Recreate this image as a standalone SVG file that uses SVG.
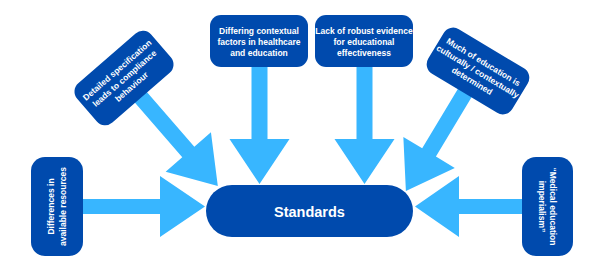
<svg xmlns="http://www.w3.org/2000/svg" width="605" height="272" viewBox="0 0 605 272">
<style>
.box{fill:#004AAD;}
.arr{fill:#38B6FF;}
.t{font-family:"Liberation Sans",Arial,sans-serif;font-weight:bold;font-size:8.5px;fill:#ffffff;text-anchor:middle;}
.big{font-family:"Liberation Sans",Arial,sans-serif;font-weight:bold;font-size:14.5px;fill:#ffffff;text-anchor:middle;}
</style>
<rect width="605" height="272" fill="#ffffff"/>
<g id="connectors">
  <polygon class="arr" points="251.5,60 267.5,60 267.5,139 289.5,139 259.5,184 229.5,139 251.5,139"/>
  <polygon class="arr" points="356.5,60 372.5,60 372.5,139 394.5,139 364.5,184 334.5,139 356.5,139"/>
  <polygon class="arr" points="75,199 160,199 160,176 205,206.5 160,237 160,214 75,214"/>
  <polygon class="arr" points="530,199 459,199 459,176 415,206.5 459,237 459,214 530,214"/>
  <polygon class="arr" transform="translate(124,78) rotate(-41)" points="-8,20 8,20 8,98 30,98 0,143 -30,98 -8,98"/>
  <polygon class="arr" transform="translate(478,71) rotate(31)" points="-8,20 8,20 8,95 30,95 0,140 -30,95 -8,95"/>
</g>
<g id="standards">
  <rect class="box" x="206" y="185" width="207" height="52" rx="26"/>
  <text class="big" x="309.5" y="216.5">Standards</text>
</g>
<g id="differing">
  <rect class="box" x="210" y="15" width="98" height="52" rx="11"/>
  <text class="t" x="259" y="33.5">Differing contextual</text>
  <text class="t" x="259" y="44.5">factors in healthcare</text>
  <text class="t" x="259" y="55.5">and education</text>
</g>
<g id="lack">
  <rect class="box" x="315" y="15" width="98" height="52" rx="11"/>
  <text class="t" x="364" y="33.5">Lack of robust evidence</text>
  <text class="t" x="364" y="44.5">for educational</text>
  <text class="t" x="364" y="55.5">effectiveness</text>
</g>
<g id="detailed" transform="translate(124,78) rotate(-41)">
  <rect class="box" x="-49" y="-26" width="98" height="52" rx="11"/>
  <text class="t" x="0" y="-7.5">Detailed specification</text>
  <text class="t" x="0" y="3.5">leads to compliance</text>
  <text class="t" x="0" y="14.5">behaviour</text>
</g>
<g id="much" transform="translate(478,71) rotate(31)">
  <rect class="box" x="-49" y="-26" width="98" height="52" rx="11"/>
  <text class="t" x="0" y="-7.5">Much of education is</text>
  <text class="t" x="0" y="3.5">culturally / contextually</text>
  <text class="t" x="0" y="14.5">determined</text>
</g>
<g id="differences" transform="translate(57,206.5) rotate(-90)">
  <rect class="box" x="-49.5" y="-26" width="99" height="52" rx="14"/>
  <text class="t" x="0" y="-3">Differences in</text>
  <text class="t" x="0" y="9">available resources</text>
</g>
<g id="imperialism" transform="translate(547.5,206.5) rotate(90)">
  <rect class="box" x="-49.5" y="-25.5" width="99" height="51" rx="14"/>
  <text class="t" x="0" y="-2">“Medical education</text>
  <text class="t" x="0" y="8.5">imperialism”</text>
</g>
</svg>
